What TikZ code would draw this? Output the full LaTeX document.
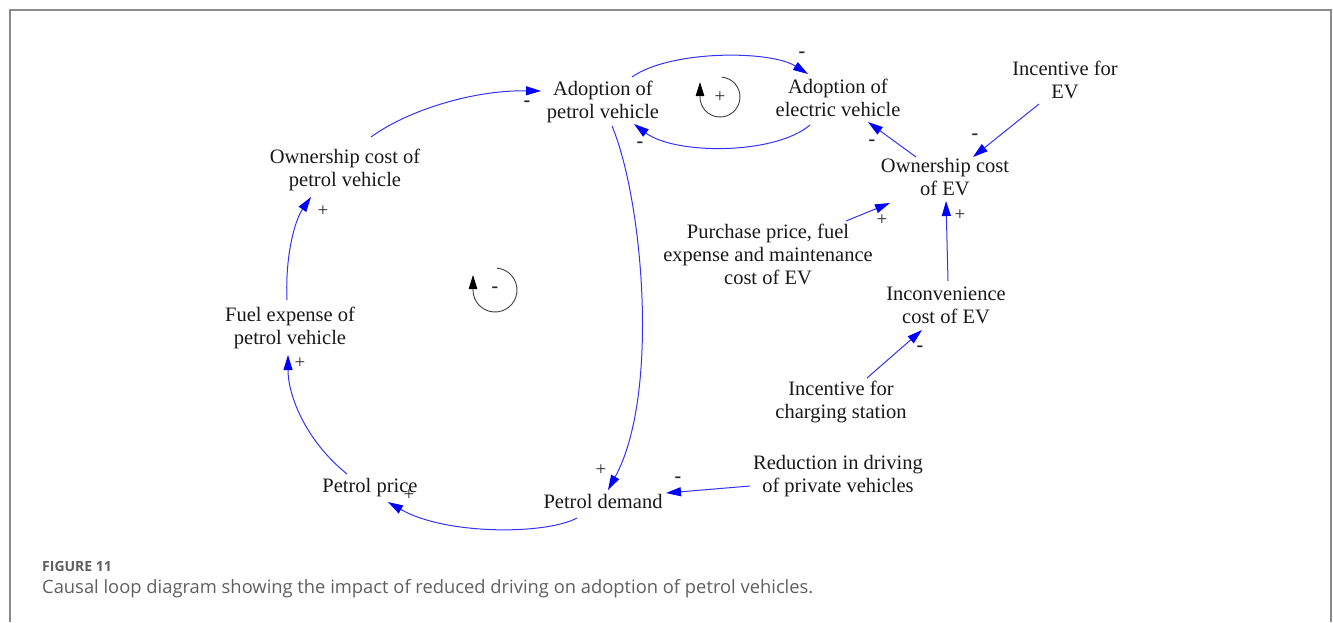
\documentclass[tikz,border=0pt]{standalone}
\usepackage{fontspec}
\setmainfont{Liberation Serif}
\newfontfamily\capfont{Open Sans}
\usetikzlibrary{arrows.meta,calc}
\definecolor{linkblue}{RGB}{50,50,250}
\definecolor{framegray}{RGB}{138,138,138}
\definecolor{capgray}{RGB}{95,95,95}

\begin{document}
\begin{tikzpicture}[x=1pt,y=-1pt,
  var/.style={font=\fontsize{20.5}{23}\selectfont, align=center, inner sep=0pt, text=black!90},
  link/.style={draw=linkblue, line width=1pt,
    -{Triangle[length=15pt,width=9pt,color=blue,fill=blue]}},
  pos sign/.style={font=\fontsize{19}{19}\selectfont, inner sep=0pt, text=black!85},
  neg sign/.style={font=\fontsize{20}{20}\selectfont\bfseries, inner sep=0pt, text=black!85},
  loopmark/.style={draw=black!75, line width=0.9pt,
    -{Triangle[length=14pt,width=8.5pt,color=black,fill=black]}}]

\useasboundingbox (0,0) rectangle (1333,622);

% frame around the figure
\draw[framegray, line width=2pt] (10,622) -- (10,10) -- (1331,10) -- (1331,622);

% variables
\node[var] (apv) at (603,102) {Adoption of\\petrol vehicle};
\node[var] (aev) at (838,97.5) {Adoption of\\electric vehicle};
\node[var] (iev) at (1065,79.5) {Incentive for\\EV};
\node[var] (oce) at (945,177.5) {Ownership cost\\of EV};
\node[var] (pp)  at (768,254) {Purchase price, fuel\\expense and maintenance\\cost of EV};
\node[var] (ice) at (946,305.5) {Inconvenience\\cost of EV};
\node[var] (ics) at (841,401.7) {Incentive for\\charging station};
\node[var] (rd)  at (838,475.7) {Reduction in driving\\of private vehicles};
\node[var] (pd)  at (603,501) {Petrol demand};
\node[var] (ppr) at (370,488) {Petrol price};
\node[var] (fep) at (290,327.7) {Fuel expense of\\petrol vehicle};
\node[var] (ocp) at (345,169.7) {Ownership cost of\\petrol vehicle};

% causal links
\draw[link] ([shift={(26,-32.7)}]ocp.center) .. controls (405,112) and (470,90) .. ([shift={(-62,-11)}]apv.center);
\draw[link] ([shift={(29,-25)}]apv.center) .. controls (670,50) and (770,50) .. ([shift={(-30,-23.5)}]aev.center);
\draw[link] ([shift={(-28,27.5)}]aev.center) .. controls (775,155) and (675,155) .. ([shift={(31,22)}]apv.center);
\draw[link] ([shift={(9,24)}]apv.center) .. controls (643,200) and (660,395) .. ([shift={(5,-11)}]pd.center);
\draw[link] ([shift={(-88,10.3)}]rd.center) -- ([shift={(63,-8)}]pd.center);
\draw[link] ([shift={(-26,17)}]pd.center) .. controls (545,535) and (445,535) .. ([shift={(18,14)}]ppr.center);
\draw[link] ([shift={(-23,-14)}]ppr.center) .. controls (305,440) and (288,395) .. ([shift={(-2,27.3)}]fep.center);
\draw[link] ([shift={(-3,-27.7)}]fep.center) .. controls (285,255) and (295,220) .. ([shift={(-34,27.3)}]ocp.center);
\draw[link] ([shift={(-29,-20.5)}]oce.center) -- ([shift={(30,24.5)}]aev.center);
\draw[link] ([shift={(-26,24.5)}]iev.center) -- ([shift={(28,-20.5)}]oce.center);
\draw[link] ([shift={(78,-33)}]pp.center) -- ([shift={(-55,25.5)}]oce.center);
\draw[link] ([shift={(2,-24.5)}]ice.center) -- ([shift={(1,23.5)}]oce.center);
\draw[link] ([shift={(26,-23.7)}]ics.center) -- ([shift={(-24,24.5)}]ice.center);

% link polarities
\node[neg sign] (s1)  at (527,104) {-};
\node[neg sign] (s2)  at (802,55)  {-};
\node[neg sign] (s3)  at (640,145) {-};
\node[pos sign] (s4)  at (601,470) {+};
\node[neg sign] (s5)  at (678,480) {-};
\node[pos sign] (s6)  at (409,495) {+};
\node[pos sign] (s7)  at (300,363) {+};
\node[pos sign] (s8)  at (323,211) {+};
\node[neg sign] (s9)  at (872,143) {-};
\node[neg sign] (s10) at (975,137) {-};
\node[pos sign] (s11) at (882,220) {+};
\node[pos sign] (s12) at (960,215) {+};
\node[neg sign] (s13) at (920,349) {-};

% loop markers: arc from the top round to the left, then a short upward stroke carrying the tip
\coordinate (rloop) at (720,97);
\coordinate (bloop) at (495,290);
\draw[loopmark] ([shift={(85:20pt)}]rloop) arc[start angle=85, end angle=-180, radius=20pt] -- ++(0,-15);
\node[pos sign] (rsign) at (rloop) {+};
\draw[loopmark] ([shift={(85:22pt)}]bloop) arc[start angle=85, end angle=-180, radius=22pt] -- ++(0,-15);
\node[neg sign] (bsign) at (bloop) {-};

% caption
\node[anchor=base west, inner sep=0pt, font=\capfont\bfseries\fontsize{14}{14}\selectfont, text=capgray] (fig) at (42,571) {FIGURE 11};
\node[anchor=base west, inner sep=0pt, font=\capfont\fontsize{18.35}{18.35}\selectfont, text=capgray] (cap) at (42,593) {Causal loop diagram showing the impact of reduced driving on adoption of petrol vehicles.};
\end{tikzpicture}
\end{document}
